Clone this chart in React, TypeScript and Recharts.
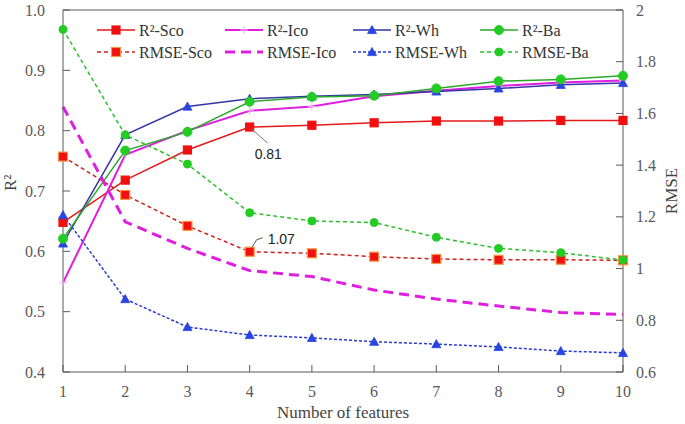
import React from "react";
import {
  ComposedChart,
  Line,
  XAxis,
  YAxis,
  Legend,
  ReferenceLine,
  LabelList,
} from "recharts";

const features = [1, 2, 3, 4, 5, 6, 7, 8, 9, 10];
const r2Sco = [0.648, 0.718, 0.768, 0.806, 0.809, 0.813, 0.816, 0.816, 0.817, 0.817];
const r2Ico = [0.548, 0.76, 0.8, 0.833, 0.84, 0.857, 0.866, 0.874, 0.88, 0.883];
const r2Wh = [0.613, 0.793, 0.84, 0.853, 0.857, 0.86, 0.865, 0.87, 0.876, 0.879];
const r2Ba = [0.621, 0.767, 0.798, 0.848, 0.856, 0.858, 0.87, 0.882, 0.885, 0.891];
const rmseSco = [1.433, 1.285, 1.165, 1.065, 1.059, 1.046, 1.037, 1.034, 1.034, 1.032];
const rmseIco = [1.626, 1.181, 1.078, 0.992, 0.969, 0.917, 0.882, 0.855, 0.83, 0.822];
const rmseWh = [1.207, 0.882, 0.774, 0.743, 0.732, 0.717, 0.708, 0.697, 0.681, 0.674];
const rmseBa = [1.925, 1.517, 1.404, 1.216, 1.184, 1.178, 1.121, 1.078, 1.061, 1.033];

const r2Ticks = [0.4, 0.5, 0.6, 0.7, 0.8, 0.9, 1.0];
const rmseTicks = [0.6, 0.8, 1, 1.2, 1.4, 1.6, 1.8, 2];

const data = features.map((f, i) => ({
  x: f,
  r2Sco: r2Sco[i],
  r2Ico: r2Ico[i],
  r2Wh: r2Wh[i],
  r2Ba: r2Ba[i],
  rmseSco: rmseSco[i],
  rmseIco: rmseIco[i],
  rmseWh: rmseWh[i],
  rmseBa: rmseBa[i],
}));

const series = [
  { key: "r2Sco", name: "R²-Sco", axis: "left", stroke: "#e3191b", width: 1.5, dash: undefined, marker: "square", fill: "#f01010", mstroke: "#f01010", size: 8 },
  { key: "r2Ico", name: "R²-Ico", axis: "left", stroke: "#e01ee0", width: 2, dash: undefined, marker: "cross", fill: "none", mstroke: "#f0b0f0", size: 8 },
  { key: "r2Wh", name: "R²-Wh", axis: "left", stroke: "#3535a8", width: 1.5, dash: undefined, marker: "triangle", fill: "#2845e0", mstroke: "#2845e0", size: 9 },
  { key: "r2Ba", name: "R²-Ba", axis: "left", stroke: "#2aa82a", width: 1.5, dash: undefined, marker: "circle", fill: "#22cc22", mstroke: "#22cc22", size: 9 },
  { key: "rmseSco", name: "RMSE-Sco", axis: "right", stroke: "#cc2020", width: 1.5, dash: "4 3", marker: "square", fill: "#f01010", mstroke: "#f79646", size: 9 },
  { key: "rmseIco", name: "RMSE-Ico", axis: "right", stroke: "#e01ee0", width: 3, dash: "10 6", marker: "none", fill: "none", mstroke: "none", size: 0 },
  { key: "rmseWh", name: "RMSE-Wh", axis: "right", stroke: "#2a3ad0", width: 1.5, dash: "3 2", marker: "triangle", fill: "#2845e0", mstroke: "#2845e0", size: 9 },
  { key: "rmseBa", name: "RMSE-Ba", axis: "right", stroke: "#2ac02a", width: 1.5, dash: "4 3", marker: "circle", fill: "#22cc22", mstroke: "#22cc22", size: 8 },
];

const AXIS = "#595959";
const SERIF = "'Liberation Serif', 'Times New Roman', serif";

function Marker({ s, cx, cy }: any) {
  const h = s.size / 2;
  if (s.marker === "square")
    return <rect x={cx - h} y={cy - h} width={s.size} height={s.size} fill={s.fill} stroke={s.mstroke} strokeWidth={1.2} />;
  if (s.marker === "triangle")
    return <polygon points={`${cx},${cy - h} ${cx + h},${cy + h * 0.8} ${cx - h},${cy + h * 0.8}`} fill={s.fill} stroke={s.mstroke} strokeWidth={0.8} />;
  if (s.marker === "circle") return <circle cx={cx} cy={cy} r={h} fill={s.fill} stroke={s.mstroke} />;
  if (s.marker === "cross")
    return (
      <g stroke={s.mstroke} strokeWidth={1}>
        <line x1={cx - h} y1={cy} x2={cx + h} y2={cy} />
        <line x1={cx} y1={cy - h} x2={cx} y2={cy + h} />
      </g>
    );
  return null;
}

const dotFor = (s: any) => (props: any) => {
  if (s.marker === "none") return <g key={`${s.key}-${props.index}`} />;
  return <Marker key={`${s.key}-${props.index}`} s={s} cx={props.cx} cy={props.cy} />;
};

function renderLegend() {
  const cols = [7, 135, 263, 390];
  const rows = [12, 34];
  return (
    <svg width={520} height={48} style={{ display: "block", overflow: "visible" }}>
      {series.map((s, i) => {
        const col = cols[i % 4];
        const row = rows[Math.floor(i / 4)];
        return (
          <g key={s.key}>
            <line x1={col} y1={row} x2={col + 38} y2={row} stroke={s.stroke} strokeWidth={s.width} strokeDasharray={s.dash} />
            <Marker s={s} cx={col + 19} cy={row} />
            <text x={col + 42} y={row} dy="0.35em" fontFamily={SERIF} fontSize={16} fill="#333">
              {s.name}
            </text>
          </g>
        );
      })}
    </svg>
  );
}

const scoLabel = (props: any) => {
  const { x, y, index } = props;
  if (index !== 3) return null;
  return (
    <g>
      <line x1={x + 2} y1={y + 2} x2={x + 18} y2={y + 16} stroke="#777" strokeWidth={1} />
      <text x={x + 5} y={y + 27} dy="0.35em" fontFamily="'Liberation Sans', Arial, sans-serif" fontSize={14} fill="#222">
        0.81
      </text>
    </g>
  );
};

const rmseScoLabel = (props: any) => {
  const { x, y, index } = props;
  if (index !== 3) return null;
  return (
    <g>
      <polyline points={`${x + 2},${y - 4} ${x + 7},${y - 12} ${x + 13},${y - 14}`} fill="none" stroke="#555" strokeWidth={1} />
      <text x={x + 18} y={y - 13} dy="0.35em" fontFamily="'Liberation Sans', Arial, sans-serif" fontSize={14} fill="#222">
        1.07
      </text>
    </g>
  );
};

const makeTick = (anchor: string, dy: string, fmt: (v: number) => string) => (props: any) => {
  const { x, y, payload } = props;
  return (
    <text x={x} y={y} dy={dy} textAnchor={anchor} style={{ fontFamily: SERIF, fontSize: 16, fill: AXIS }}>
      {fmt(payload.value)}
    </text>
  );
};

export default function App() {
  const labelStyle = { fontFamily: SERIF, fontSize: 17, fill: "#444" };
  return (
    <div style={{ position: "absolute", left: 0, top: 0, background: "#fff" }}>
      <ComposedChart width={685} height={424} data={data} margin={{ top: 10, right: 0, bottom: 0, left: 0 }}>
        <XAxis
          dataKey="x"
          type="number"
          domain={[1, 10]}
          ticks={features}
          height={52}
          stroke={AXIS}
          tickSize={-7}
          tickMargin={20}
          tick={makeTick("middle", "0.75em", (v) => String(v))}
          label={{ value: "Number of features", position: "insideBottom", offset: 6, style: labelStyle }}
        />
        <YAxis
          yAxisId="left"
          domain={[0.4, 1.0]}
          ticks={r2Ticks}
          width={63}
          stroke={AXIS}
          tickSize={-7}
          tickMargin={25}
          tick={makeTick("end", "0.35em", (v) => v.toFixed(1))}
          label={{ value: "R²", angle: -90, position: "insideLeft", offset: 10, style: labelStyle }}
        />
        <YAxis
          yAxisId="right"
          orientation="right"
          domain={[0.6, 2]}
          ticks={rmseTicks}
          width={62}
          stroke={AXIS}
          tickSize={-7}
          tickMargin={20}
          tick={makeTick("start", "0.35em", (v) => String(v))}
          label={{ value: "RMSE", angle: -90, position: "insideRight", offset: 14, style: { ...labelStyle, textAnchor: "middle" } }}
        />
        <ReferenceLine yAxisId="left" y={1.0} stroke={AXIS} />
        <Legend content={renderLegend} layout="horizontal" verticalAlign="middle" align="center" wrapperStyle={{ top: 18, left: 90, width: 520, height: 48 }} />
        {series.map((s) => (
          <Line
            key={s.key}
            yAxisId={s.axis}
            dataKey={s.key}
            name={s.name}
            type="linear"
            stroke={s.stroke}
            strokeWidth={s.width}
            strokeDasharray={s.dash}
            dot={dotFor(s)}
            activeDot={false}
            isAnimationActive={false}
          >
            {s.key === "r2Sco" && <LabelList dataKey={s.key} content={scoLabel} />}
            {s.key === "rmseSco" && <LabelList dataKey={s.key} content={rmseScoLabel} />}
          </Line>
        ))}
      </ComposedChart>
    </div>
  );
}
